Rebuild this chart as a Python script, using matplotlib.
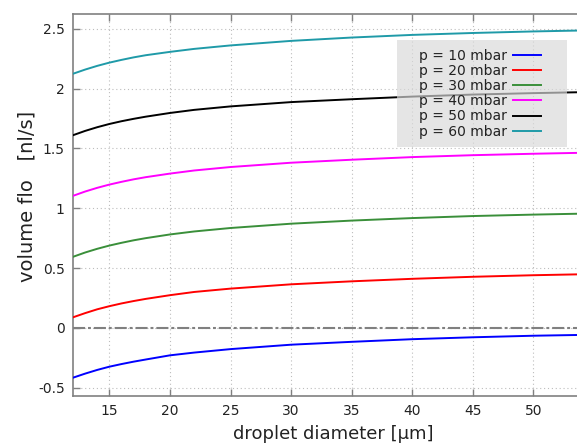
import matplotlib.pyplot as plt
from matplotlib.patches import Rectangle

plt.rcParams['font.family'] = ['DejaVu Sans']

# droplet diameter in micrometres
diameter = [12, 13, 14, 15, 16, 17, 18, 20, 22, 25, 30, 35, 40, 45, 50, 53.5, 55]

# volume flow in nl/s for each pressure
flow_10 = [-0.417, -0.383, -0.352, -0.325, -0.303, -0.283, -0.265, -0.230, -0.207, -0.178,
           -0.141, -0.117, -0.095, -0.079, -0.066, -0.060, -0.058]
flow_20 = [0.088, 0.123, 0.155, 0.181, 0.204, 0.224, 0.242, 0.273, 0.300, 0.328,
           0.364, 0.389, 0.410, 0.427, 0.440, 0.447, 0.449]
flow_30 = [0.594, 0.630, 0.661, 0.688, 0.711, 0.732, 0.750, 0.781, 0.806, 0.835,
           0.871, 0.897, 0.918, 0.935, 0.947, 0.954, 0.956]
flow_40 = [1.104, 1.140, 1.171, 1.198, 1.221, 1.242, 1.260, 1.290, 1.316, 1.345,
           1.381, 1.406, 1.428, 1.444, 1.456, 1.463, 1.465]
flow_50 = [1.611, 1.647, 1.678, 1.705, 1.728, 1.748, 1.766, 1.797, 1.823, 1.852,
           1.888, 1.912, 1.934, 1.951, 1.963, 1.970, 1.972]
flow_60 = [2.125, 2.160, 2.191, 2.218, 2.241, 2.262, 2.280, 2.308, 2.333, 2.362,
           2.400, 2.428, 2.450, 2.466, 2.479, 2.486, 2.488]

labels = ['p = 10 mbar', 'p = 20 mbar', 'p = 30 mbar',
          'p = 40 mbar', 'p = 50 mbar', 'p = 60 mbar']
colors = ['#0000ff', '#ff0000', '#3a8f3a', '#ff00ff', '#000000', '#1f9aa8']
x_ticks = [15, 20, 25, 30, 35, 40, 45, 50]
y_ticks = [-0.5, 0, 0.5, 1, 1.5, 2, 2.5]
y_tick_labels = ['-0.5', '0', '0.5', '1', '1.5', '2', '2.5']

fig = plt.figure(figsize=(5.77, 4.48), dpi=100)
ax = fig.add_axes([0.1265, 0.1161, 0.903, 0.8527])

# zero reference line
ax.axhline(0, color='#808080', lw=1.5, dashes=[5.8, 1.4, 1.4, 1.4], zorder=2)

series = [flow_10, flow_20, flow_30, flow_40, flow_50, flow_60]
for flow, lab, col in zip(series, labels, colors):
    ax.plot(diameter, flow, color=col, lw=1.4, label=lab, zorder=3)

ax.set_xlim(12, 55)
ax.set_ylim(-0.57, 2.625)
ax.set_xticks(x_ticks)
ax.set_yticks(y_ticks)
ax.set_yticklabels(y_tick_labels)

ax.grid(True, color='#bdbdbd', lw=0.8, linestyle=(0, (1, 2.5)))
ax.set_axisbelow(True)

for side in ['left', 'top', 'bottom']:
    ax.spines[side].set_color('#808080')
    ax.spines[side].set_linewidth(1.2)
ax.spines['right'].set_visible(False)

ax.tick_params(direction='in', length=5, width=1, color='#808080',
               labelsize=10, labelcolor='#222222', top=True, pad=6)

ax.set_xlabel('droplet diameter [µm]', fontsize=13, color='#222222', labelpad=5)
ax.set_ylabel('volume flo   [nl/s]', fontsize=14, color='#222222')
ax.yaxis.set_label_coords(-0.07, 0.522)

# translucent grey panel behind the legend entries
panel = Rectangle((397 / 577, 1 - 147 / 448), 170 / 577, 107 / 448,
                  transform=fig.transFigure, facecolor='#d9d9d9', alpha=0.67,
                  edgecolor='none', zorder=4, clip_on=False)
ax.add_patch(panel)

leg = ax.legend(loc='upper left', bbox_to_anchor=(419 / 577, 1 - 49 / 448),
                bbox_transform=fig.transFigure, borderaxespad=0, borderpad=0,
                fontsize=10, markerfirst=False, labelspacing=0.08,
                handlelength=2.0, handletextpad=0.43, frameon=False)
leg.set_zorder(5)
for t in leg.get_texts():
    t.set_color('#222222')

fig.savefig('out.png', dpi=100)
